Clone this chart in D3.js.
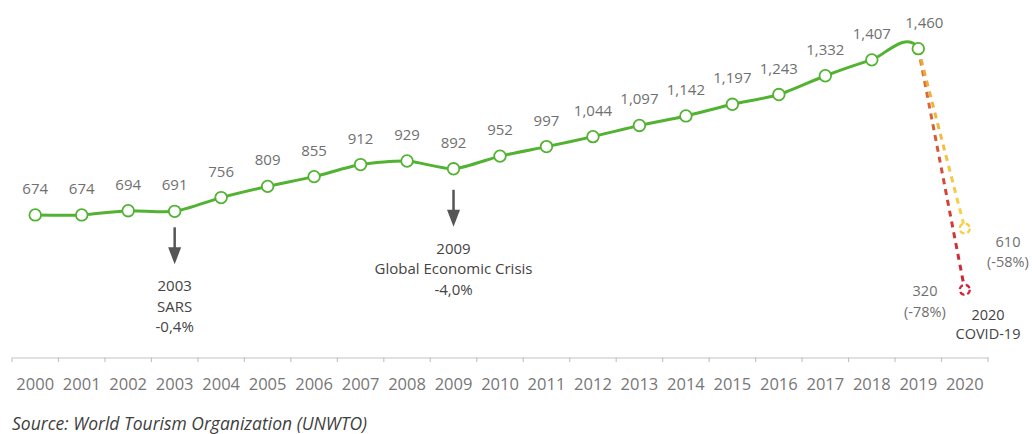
<!DOCTYPE html>
<html>
<head>
<meta charset="utf-8">
<script src="https://cdn.jsdelivr.net/npm/d3@7"></script>
<style>
  body { margin: 0; background: #fff; }
  svg { display: block; font-family: "Open Sans", sans-serif; }
</style>
</head>
<body>
<svg id="chart" width="1032" height="434"></svg>
<script>
// Chart values
const years = d3.range(2000, 2021).map(String);
const arrivals = [674, 674, 694, 691, 756, 809, 855, 912, 929, 892, 952, 997,
                  1044, 1097, 1142, 1197, 1243, 1332, 1407, 1460];
const arrivalLabels = ["674", "674", "694", "691", "756", "809", "855", "912", "929", "892", "952", "997",
                       "1,044", "1,097", "1,142", "1,197", "1,243", "1,332", "1,407", "1,460"];
const scenarioYears = ["2019", "2020"];
const scenarioHigh = [1460, 610];
const scenarioLow = [1460, 320];
const events = [
  {year: "2003", lines: ["2003", "SARS", "-0,4%"]},
  {year: "2009", lines: ["2009", "Global Economic Crisis", "-4,0%"]}
];

const svg = d3.select("#chart");
const green = "#52b232";

// Scales: zero sits on the axis line
const x = d3.scaleBand().domain(years).range([12, 988]);
const cx = d => x(d) + x.bandwidth() / 2;
const y = d3.scaleLinear().domain([0, 1690]).range([357.5, 0]);

// X axis
const axis = svg.append("g")
  .attr("transform", "translate(0,357.5)")
  .call(d3.axisBottom(x).tickSize(0).tickPadding(21));
axis.select(".domain").attr("stroke", "#c4c4c4").attr("stroke-width", 1.2);
axis.selectAll("text")
  .attr("font-size", "16.5px")
  .attr("fill", "#777")
  .attr("font-family", "Open Sans");

// tick marks at band edges
const edges = years.map(d => x(d)).concat([x.range()[1]]);
svg.append("g").selectAll("line")
  .data(edges)
  .join("line")
  .attr("x1", d => d).attr("x2", d => d)
  .attr("y1", 357.5).attr("y2", 362)
  .attr("stroke", "#c4c4c4")
  .attr("stroke-width", 1.2);

// Dashed scenario lines (gradients along each line)
const defs = svg.append("defs");
function gradient(id, c0, c1, end) {
  const g = defs.append("linearGradient")
    .attr("id", id)
    .attr("gradientUnits", "userSpaceOnUse")
    .attr("x1", 0).attr("y1", y(scenarioHigh[0]))
    .attr("x2", 0).attr("y2", y(end));
  g.append("stop").attr("offset", "0%").attr("stop-color", c0);
  g.append("stop").attr("offset", "100%").attr("stop-color", c1);
}
gradient("gHigh", "#e9a43a", "#f7d64a", scenarioHigh[1]);
gradient("gLow", "#e07a35", "#c9243a", scenarioLow[1]);

const scenLine = d3.line()
  .x((d, i) => cx(scenarioYears[i]))
  .y(d => y(d));

svg.append("path")
  .datum(scenarioLow)
  .attr("d", scenLine)
  .attr("fill", "none")
  .attr("stroke", "url(#gLow)")
  .attr("stroke-width", 3)
  .attr("stroke-dasharray", "6,5");

svg.append("path")
  .datum(scenarioHigh)
  .attr("d", scenLine)
  .attr("fill", "none")
  .attr("stroke", "url(#gHigh)")
  .attr("stroke-width", 3)
  .attr("stroke-dasharray", "6,5");

// Scenario end markers
svg.append("circle")
  .attr("cx", cx("2020")).attr("cy", y(scenarioHigh[1]))
  .attr("r", 5).attr("fill", "#fff")
  .attr("stroke", "#f5d045").attr("stroke-width", 2.2)
  .attr("stroke-dasharray", "5,3");
svg.append("circle")
  .attr("cx", cx("2020")).attr("cy", y(scenarioLow[1]))
  .attr("r", 5).attr("fill", "#fff")
  .attr("stroke", "#d0253a").attr("stroke-width", 2.2)
  .attr("stroke-dasharray", "5,3");

// Green smoothed line, clipped at 2019 (2020 value only shapes the curve end)
defs.append("clipPath").attr("id", "clipGreen")
  .append("rect")
  .attr("x", 0).attr("y", 0)
  .attr("width", cx("2019")).attr("height", 400);

const lineData = arrivals.concat([scenarioHigh[1]]);
const line = d3.line()
  .x((d, i) => cx(years[i]))
  .y(d => y(d))
  .curve(d3.curveCardinal.tension(0.3));

svg.append("path")
  .datum(lineData)
  .attr("d", line)
  .attr("fill", "none")
  .attr("stroke", green)
  .attr("stroke-width", 3)
  .attr("clip-path", "url(#clipGreen)");

svg.append("g").selectAll("circle")
  .data(arrivals)
  .join("circle")
  .attr("cx", (d, i) => cx(years[i]))
  .attr("cy", d => y(d))
  .attr("r", 5.8)
  .attr("fill", "#fff")
  .attr("stroke", green)
  .attr("stroke-width", 1.8);

// Value labels
svg.append("g").selectAll("text")
  .data(arrivals)
  .join("text")
  .attr("x", (d, i) => cx(years[i]) + (i === 19 ? 6 : 0))
  .attr("y", d => y(d) - 21)
  .attr("text-anchor", "middle")
  .attr("font-size", "15px")
  .attr("fill", "#707070")
  .text((d, i) => arrivalLabels[i]);

// Event arrows and notes
events.forEach(ev => {
  const xi = cx(ev.year);
  const v = arrivals[years.indexOf(ev.year)];
  const top = y(v) + (ev.year === "2003" ? 16 : 21);
  const g = svg.append("g");
  g.append("line")
    .attr("x1", xi).attr("x2", xi)
    .attr("y1", top).attr("y2", top + 22)
    .attr("stroke", "#555").attr("stroke-width", 2.5);
  g.append("path")
    .attr("d", `M${xi - 6.5},${top + 20}L${xi + 6.5},${top + 20}L${xi},${top + 37}Z`)
    .attr("fill", "#555");
  g.selectAll("text")
    .data(ev.lines)
    .join("text")
    .attr("x", xi)
    .attr("y", (d, i) => top + 64 + i * 20.5)
    .attr("text-anchor", "middle")
    .attr("font-size", "15px")
    .attr("fill", "#444")
    .text(d => d);
});

// Scenario notes
const notes = [
  {x: 1008, y: 247, t: "610", c: "#707070"},
  {x: 1008, y: 267, t: "(-58%)", c: "#707070"},
  {x: 925, y: 296, t: "320", c: "#707070"},
  {x: 925, y: 317, t: "(-78%)", c: "#707070"},
  {x: 988, y: 320, t: "2020", c: "#444"},
  {x: 988, y: 339, t: "COVID-19", c: "#444"}
];
svg.append("g").selectAll("text")
  .data(notes)
  .join("text")
  .attr("x", d => d.x)
  .attr("y", d => d.y)
  .attr("text-anchor", "middle")
  .attr("font-size", "14.5px")
  .attr("fill", d => d.c)
  .text(d => d.t);

// Source
svg.append("text")
  .attr("x", 12)
  .attr("y", 430)
  .attr("font-size", "17.5px")
  .attr("font-style", "italic")
  .attr("fill", "#404040")
  .text("Source: World Tourism Organization (UNWTO)");
</script>
</body>
</html>
